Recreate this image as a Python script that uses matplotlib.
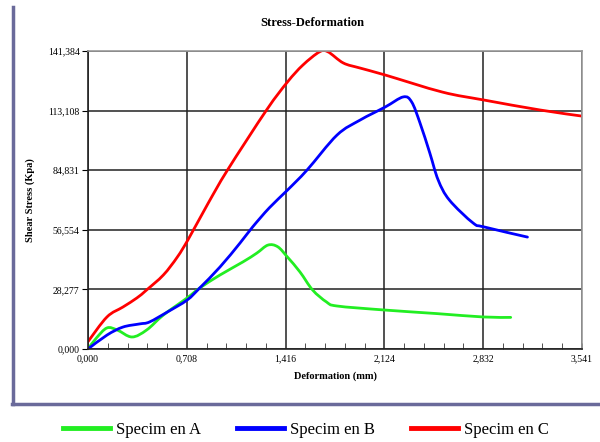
import numpy as np
import matplotlib.pyplot as plt
from matplotlib.lines import Line2D
from matplotlib.path import Path
from matplotlib.patches import PathPatch
from matplotlib.ticker import MultipleLocator

plt.rcParams['font.family'] = ['Liberation Serif', 'DejaVu Serif']

# Deformation (mm) / Shear stress (kPa)
def_a = [0.0, 0.06, 0.136, 0.21, 0.315, 0.42, 0.54, 0.71, 0.80, 0.946, 1.11, 1.21, 1.29, 1.36,
         1.43, 1.52, 1.61, 1.71, 1.785, 2.124, 2.5, 2.832, 3.03]
stress_a = [0.0, 5.2, 10.0, 9.0, 5.7, 9.0, 16.1, 24.2, 28.9, 35.1, 41.3, 45.5, 49.3, 48.5,
            43.6, 36.5, 28.0, 22.3, 20.4, 18.5, 16.8, 15.2, 15.0]

def_b = [0.0, 0.136, 0.25, 0.37, 0.44, 0.57, 0.71, 0.80, 0.946, 1.09, 1.18, 1.30, 1.43, 1.57,
         1.785, 1.95, 2.13, 2.26, 2.32, 2.38, 2.45, 2.51, 2.59, 2.76, 2.84, 3.15]
stress_b = [0.0, 6.6, 10.4, 11.9, 12.8, 17.6, 23.2, 28.9, 38.9, 50.3, 57.9, 67.0, 75.4, 84.9,
            101.5, 108.6, 114.8, 119.6, 117.2, 107.2, 93.0, 80.2, 70.7, 59.8, 57.9, 53.1]

def_c = [0.0, 0.136, 0.25, 0.35, 0.42, 0.54, 0.64, 0.72, 0.86, 1.0, 1.28, 1.43, 1.54,
         1.66, 1.72, 1.83, 1.95, 2.13, 2.54, 2.84, 3.24, 3.541]
stress_c = [3.5, 15.2, 19.9, 24.2, 28.0, 35.1, 43.6, 52.2, 69.0, 84.9, 113.4, 126.7, 134.7,
            141.0, 141.0, 135.7, 133.3, 130.0, 121.9, 118.1, 113.4, 110.5]

names = ['Specim en A', 'Specim en B', 'Specim en C']
colors = ['#22ee22', '#0000ff', '#ff0000']

x_ticks = [0.0, 0.708, 1.416, 2.124, 2.832, 3.541]
x_labels = ['0,000', '0,708', '1,416', '2,124', '2,832', '3,541']
y_ticks = [0.0, 28.277, 56.554, 84.831, 113.108, 141.384]
y_labels = ['0,000', '28,277', '56,554', '84,831', '113,108', '141,384']


def smooth_path(xs, ys):
    # Excel-like smoothed line: cubic Bezier segments through the points
    p = np.column_stack([xs, ys]).astype(float)
    verts = [p[0]]
    codes = [Path.MOVETO]
    n = len(p)
    for i in range(n - 1):
        p0 = p[i - 1] if i > 0 else p[i]
        p3 = p[i + 2] if i + 2 < n else p[i + 1]
        c1 = p[i] + (p[i + 1] - p0) / 6.0
        c2 = p[i + 1] - (p3 - p[i]) / 6.0
        verts += [c1, c2, p[i + 1]]
        codes += [Path.CURVE4] * 3
    return Path(verts, codes)


fig = plt.figure(figsize=(6, 4.42), dpi=100)
ax = fig.add_axes([88 / 600, 1 - 349 / 442, 494 / 600, 298 / 442])

lw = 2.0
series = [(def_a, stress_a), (def_b, stress_b), (def_c, stress_c)]
for (xs, ys), col in zip(series, colors):
    ax.add_patch(PathPatch(smooth_path(xs, ys), fill=False, edgecolor=col, lw=lw,
                           capstyle='round', joinstyle='round', clip_on=True))

ax.set_xlim(0, 3.541)
ax.set_ylim(0, 141.384)
ax.set_xticks(x_ticks)
ax.set_xticklabels(x_labels, fontsize=7)
ax.set_yticks(y_ticks)
ax.set_yticklabels(y_labels, fontsize=7)
ax.xaxis.set_minor_locator(MultipleLocator(0.1416))
ax.tick_params(axis='x', which='major', length=0, pad=4)
ax.tick_params(axis='x', which='minor', direction='in', length=4, color='#333333')
ax.tick_params(axis='y', which='major', direction='out', length=4, pad=2)
ax.grid(True, color='#222222', lw=1.1)
ax.set_axisbelow(True)

for s in ['top', 'right']:
    ax.spines[s].set_color('#999999')
    ax.spines[s].set_linewidth(1.2)
for s in ['left', 'bottom']:
    ax.spines[s].set_color('#222222')
    ax.spines[s].set_linewidth(1.2)

ax.set_xlabel('Deformation (mm)', fontsize=7.5, fontweight='bold', labelpad=6)
ax.set_ylabel('Shear Stress (Kpa)', fontsize=7.5, fontweight='bold', labelpad=9)

fig.text(312 / 600, 1 - 23 / 442, 'Stress-Deformation', fontsize=9, fontweight='bold',
         ha='center', va='center')

# outer frame (left and bottom edges visible)
frame_col = '#6a6a9a'
fig.add_artist(Line2D([13 / 600, 13 / 600], [1 - 7 / 442, 1 - 404 / 442],
                      transform=fig.transFigure, color=frame_col, lw=2.5))
fig.add_artist(Line2D([12 / 600, 1.0], [1 - 404 / 442, 1 - 404 / 442],
                      transform=fig.transFigure, color=frame_col, lw=2.5))

handles = [Line2D([], [], color=c, lw=3.5) for c in colors]
fig.legend(handles, names, loc='center', bbox_to_anchor=(306 / 600, 1 - 430 / 442), ncol=3,
           frameon=False, fontsize=12, handlelength=2.8, handletextpad=0.35,
           columnspacing=2.2)

fig.savefig('out.png', dpi=100)
